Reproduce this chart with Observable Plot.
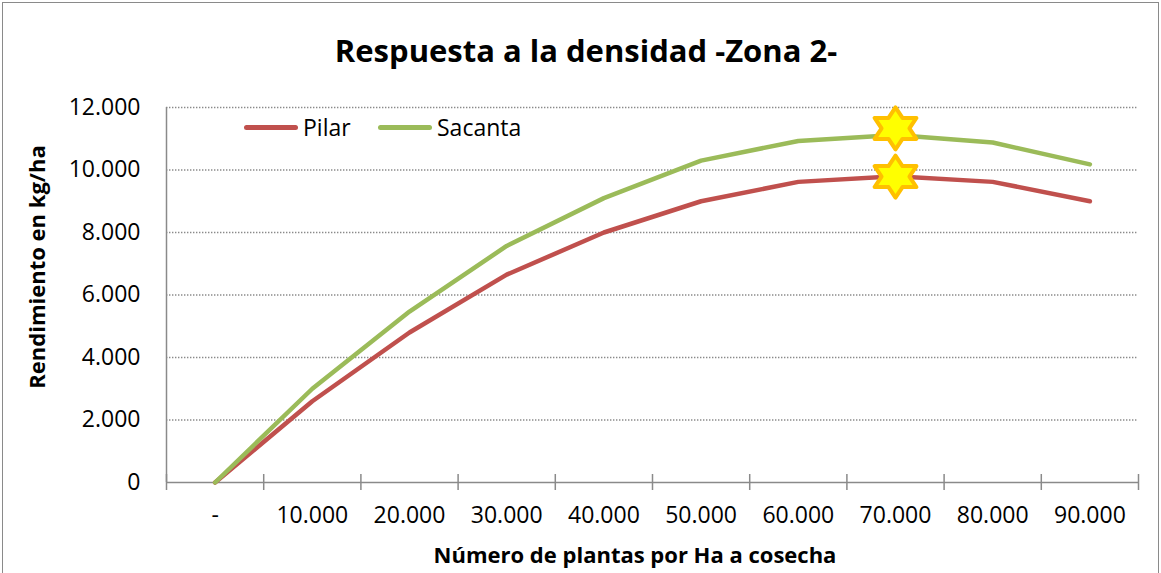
<!DOCTYPE html>
<html><head><meta charset="utf-8">
<script src="https://cdn.jsdelivr.net/npm/d3@7"></script>
<script src="https://cdn.jsdelivr.net/npm/@observablehq/plot@0.6"></script>
<style>
body{margin:0;background:#fff;font-family:"Open Sans",sans-serif;color:#000;}
#wrap{position:relative;width:1161px;height:573px;overflow:hidden;background:#fff;}
#frame{position:absolute;left:2px;top:2px;width:1157px;height:620px;border:1.5px solid #8a8a8a;box-sizing:border-box;}
#chart{position:absolute;left:0;top:0;}
.t{position:absolute;white-space:nowrap;font-weight:bold;line-height:1.2;}
#title{left:0;width:1172px;text-align:center;top:32px;font-size:31px;}
#xtitle{left:0;width:1270px;text-align:center;top:541px;font-size:22px;}
#ytitle{left:36px;top:267px;font-size:22px;transform:translate(-50%,-50%) rotate(-90deg);}
.leg{position:absolute;top:112px;font-size:23px;line-height:30px;display:flex;align-items:center;}
.leg span.bar{display:inline-block;width:54px;height:5px;border-radius:3px;margin-right:5px;}
</style></head>
<body>
<div id="wrap">
  <div id="frame"></div>
  <div id="chart"></div>
  <div class="t" id="title">Respuesta a la densidad -Zona 2-</div>
  <div class="t" id="xtitle">Número de plantas por Ha a cosecha</div>
  <div class="t" id="ytitle">Rendimiento en kg/ha</div>
  <div class="leg" style="left:244px"><span class="bar" style="background:#C0504D"></span>Pilar</div>
  <div class="leg" style="left:378px"><span class="bar" style="background:#9BBB59"></span>Sacanta</div>
</div>
<script>
const categories = ["-", "10.000", "20.000", "30.000", "40.000", "50.000", "60.000", "70.000", "80.000", "90.000"];
const pilar   = [0, 2600, 4800, 6650, 8000, 9000, 9620, 9800, 9620, 9000];
const sacanta = [0, 3000, 5470, 7570, 9100, 10300, 10930, 11120, 10880, 10180];
const starCategory = ["70.000", "70.000"];
const starValues = [11330, 9790];
const yTicks = [0, 2000, 4000, 6000, 8000, 10000, 12000];

const es = d3.formatLocale({decimal: ",", thousands: ".", grouping: [3], currency: ["", ""]});
const fmt = es.format(",");

const hexagram = {
  draw(context, size) {
    const R = Math.sqrt(size / Math.PI);
    const r = R / Math.sqrt(3);
    for (let i = 0; i < 12; i++) {
      const a = -Math.PI / 2 + i * Math.PI / 6;
      const rad = i % 2 === 0 ? R : r;
      const x = 1.15 * rad * Math.cos(a), y = rad * Math.sin(a);
      if (i === 0) context.moveTo(x, y); else context.lineTo(x, y);
    }
    context.closePath();
  }
};

const idx = d3.range(categories.length);
const bounds = d3.range(categories.length + 1).map(i => i - 0.5);
const marginTop = 107, marginBottom = 91, H = 573;
const tickHalf = 12000 / (H - marginTop - marginBottom) * 8;
const catIndex = c => categories.indexOf(c);

const chart = Plot.plot({
  width: 1161,
  height: H,
  marginLeft: 166,
  marginRight: 23,
  marginTop,
  marginBottom,
  style: {fontFamily: "Open Sans", fontSize: "23px", color: "#000", background: "transparent", overflow: "visible"},
  x: {type: "linear", domain: [-0.5, categories.length - 0.5], axis: null},
  y: {domain: [0, 12000], axis: null},
  marks: [
    Plot.ruleY(yTicks.filter(d => d > 0), {stroke: "#8a8a8a", strokeWidth: 1.3, strokeDasharray: "1.4,1.6"}),
    Plot.ruleX([-0.5], {y1: 0, y2: 12000, stroke: "#8a8a8a", strokeWidth: 1.5}),
    Plot.ruleY([0], {stroke: "#8a8a8a", strokeWidth: 1.5}),
    Plot.ruleX(bounds, {x: d => d, y1: -tickHalf, y2: tickHalf, stroke: "#8a8a8a", strokeWidth: 1.5}),
    Plot.axisY({ticks: yTicks, tickFormat: fmt, tickSize: 0, tickPadding: 26, fontSize: 23}),
    Plot.axisX({ticks: idx, tickFormat: i => categories[i], tickSize: 0, tickPadding: 24, fontSize: 23}),
    Plot.line(pilar, {x: (d, i) => i, y: d => d, stroke: "#C0504D", strokeWidth: 4.5, strokeLinecap: "round", strokeLinejoin: "round"}),
    Plot.line(sacanta, {x: (d, i) => i, y: d => d, stroke: "#9BBB59", strokeWidth: 4.5, strokeLinecap: "round", strokeLinejoin: "round"}),
    Plot.dot(starValues, {x: (d, i) => catIndex(starCategory[i]), y: d => d, symbol: hexagram, r: 21, fill: "#FFFF00", stroke: "#FFC000", strokeWidth: 4, strokeLinejoin: "round"})
  ]
});
document.getElementById("chart").appendChild(chart);
</script>
</body></html>
